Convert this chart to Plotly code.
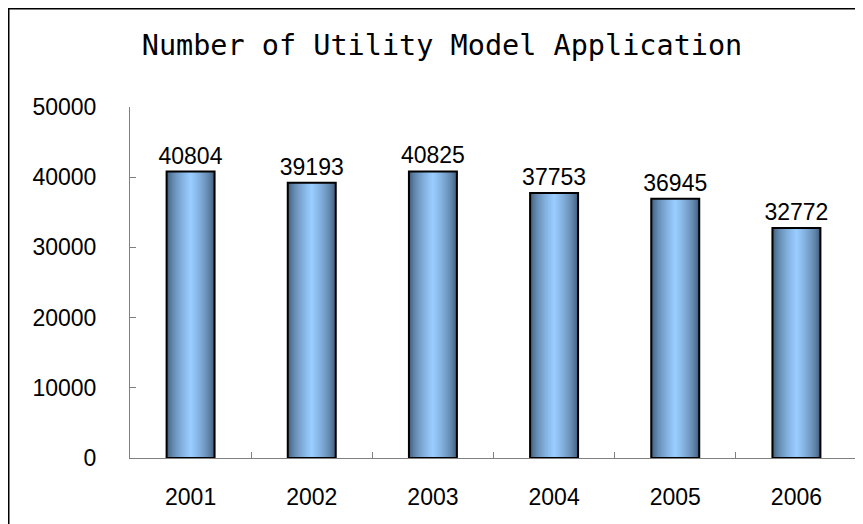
import plotly.graph_objects as go

years = ["2001", "2002", "2003", "2004", "2005", "2006"]
applications = [40804, 39193, 40825, 37753, 36945, 32772]

EDGE = (58, 84, 112)
CENTER = (153, 204, 255)
BAR_WIDTH = 0.396
N_LAYERS = 24

# the page body adds an 8px margin, so the figure is sized to the visible area
W, H = 855, 516
L, R, T, B = 122, 6, 99, 66
PW, PH = W - L - R, H - T - B


def mix(a, b, t):
    return "rgb({},{},{})".format(*[round(a[k] + (b[k] - a[k]) * t) for k in range(3)])


fig = go.Figure()

# fake a horizontal gradient by stacking narrower, lighter bars on top of each other
for i in range(N_LAYERS):
    t = (i / (N_LAYERS - 1)) ** 0.6
    fig.add_trace(go.Bar(
        x=years,
        y=applications,
        width=BAR_WIDTH * (1 - i / N_LAYERS),
        marker=dict(color=mix(EDGE, CENTER, t), line=dict(width=0)),
        hoverinfo="skip",
        showlegend=False,
    ))

# outline + labels
fig.add_trace(go.Bar(
    x=years,
    y=applications,
    width=BAR_WIDTH,
    marker=dict(color="rgba(0,0,0,0)", line=dict(color="black", width=2)),
    text=[str(v) for v in applications],
    textposition="outside",
    constraintext="none",
    textfont=dict(family="Liberation Sans, Arial, sans-serif", size=23, color="black"),
    cliponaxis=False,
    showlegend=False,
))

fig.update_layout(
    width=W,
    height=H,
    barmode="overlay",
    paper_bgcolor="white",
    plot_bgcolor="white",
    font=dict(family="Liberation Sans, Arial, sans-serif", size=23, color="black"),
    margin=dict(l=L, r=R, t=T, b=B),
    title=dict(
        text="Number of Utility Model Application",
        font=dict(family="DejaVu Sans Mono, monospace", size=28.5, color="black"),
        x=434 / W,
        xref="container",
        xanchor="center",
        y=1 - 37 / H,
        yref="container",
        yanchor="middle",
    ),
    xaxis=dict(
        showgrid=False,
        showline=True,
        linecolor="#808080",
        linewidth=1,
        ticks="inside",
        tickson="boundaries",
        ticklen=6,
        tickcolor="#808080",
        ticklabelstandoff=18,
    ),
    yaxis=dict(
        range=[0, 50000],
        dtick=10000,
        tickformat="d",
        showgrid=False,
        zeroline=False,
        showline=True,
        linecolor="#808080",
        linewidth=1,
        ticks="inside",
        ticklen=6,
        tickcolor="#808080",
        ticklabelstandoff=28,
    ),
    shapes=[dict(
        type="rect", xref="paper", yref="paper",
        x0=(0.75 - L) / PW, x1=1.1, y0=-0.3, y1=1 + (T - 0.75) / PH,
        line=dict(color="black", width=1.5),
        fillcolor="rgba(0,0,0,0)",
    )],
)

fig.write_html("out.html")
